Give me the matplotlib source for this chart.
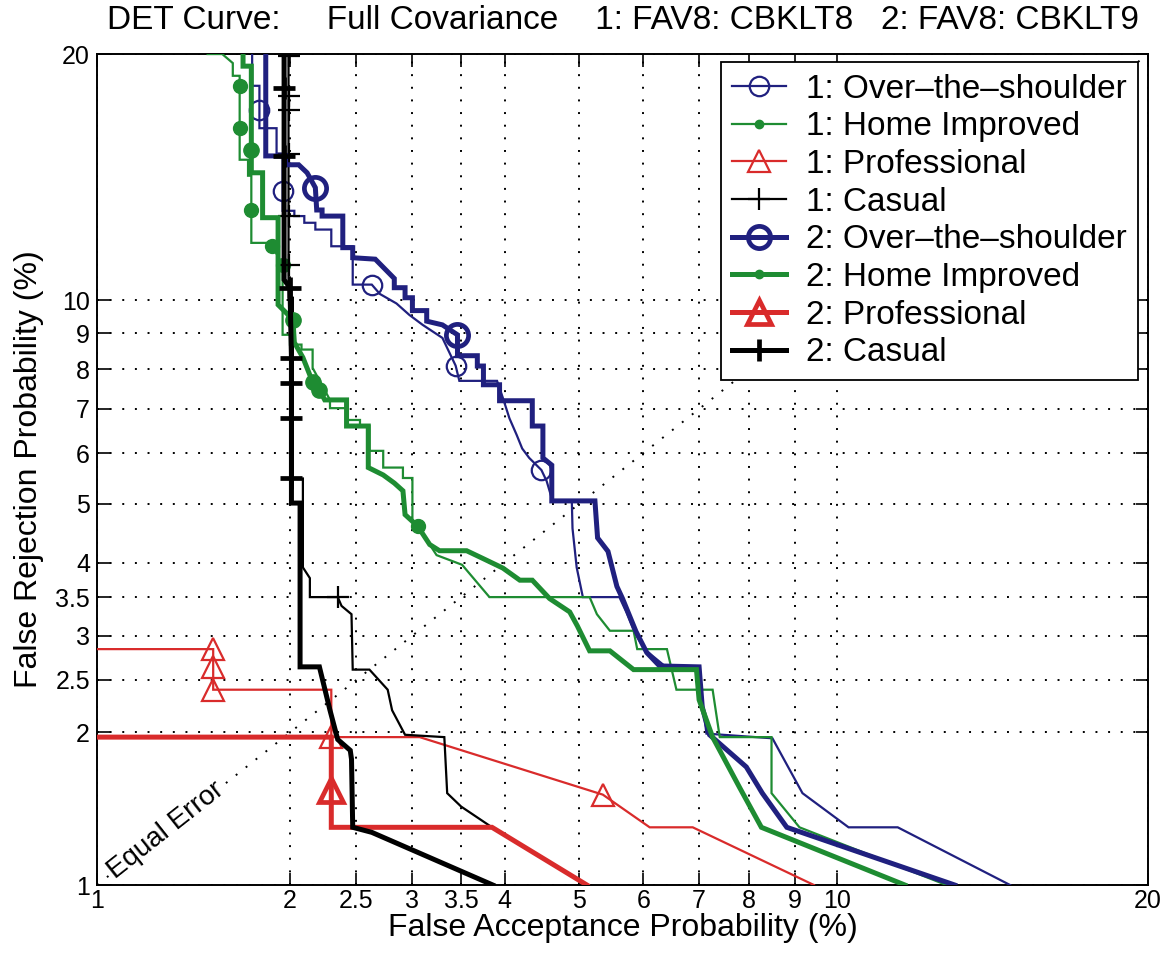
import math
import numpy as np
import matplotlib
matplotlib.use("Agg")
import matplotlib.pyplot as plt

plt.rcParams['font.family'] = ['Liberation Sans', 'DejaVu Sans']

# ---------------------------------------------------------------------------
# DET points: false acceptance (%) / false rejection (%) and marker vertices
# ---------------------------------------------------------------------------
ots1_fa = [1.755, 1.755, 1.80, 1.80, 1.80, 1.91, 1.91, 1.95, 1.95, 1.95, 2.03, 2.03,
           2.10, 2.10, 2.18, 2.18, 2.30, 2.30, 2.47, 2.47, 2.63, 2.70, 2.85, 2.97,
           3.10, 3.30, 3.44, 3.48, 3.91, 3.98, 4.06, 4.15, 4.22, 4.31, 4.47, 4.54,
           4.62, 4.89, 4.90, 4.96, 5.05, 5.61, 5.72, 5.85, 6.02, 6.41, 7.00, 7.06,
           7.14, 8.50, 9.18, 10.3, 11.6, 15.0]
ots1_fr = [22.0, 18.45, 18.45, 17.3, 16.5, 16.5, 15.4, 15.4, 13.85, 13.1, 13.1, 12.9,
           12.9, 12.65, 12.65, 12.4, 12.4, 11.8, 11.8, 10.5, 10.5, 10.2, 9.9, 9.55,
           9.25, 8.87, 8.1, 7.7, 7.7, 7.27, 6.78, 6.4, 6.1, 5.9, 5.65, 5.43,
           5.05, 5.05, 4.56, 3.93, 3.5, 3.5, 3.3, 3.05, 2.84, 2.63, 2.61, 2.3,
           1.99, 1.95, 1.53, 1.31, 1.31, 1.0]
ots1_marks = [3, 8, 20, 26, 34]

hi1_fa = [1.50, 1.58, 1.64, 1.64, 1.68, 1.68, 1.68, 1.68, 1.73, 1.73, 1.75, 1.75,
          1.75, 1.85, 1.88, 1.95, 1.95, 2.00, 2.00, 2.08, 2.08, 2.16, 2.16, 2.29,
          2.29, 2.42, 2.42, 2.53, 2.53, 2.61, 2.61, 2.73, 2.73, 2.91, 2.91, 3.00,
          3.00, 3.05, 3.24, 3.51, 3.82, 5.15, 5.26, 5.46, 5.84, 5.90, 6.41, 6.58,
          7.26, 7.40, 8.48, 8.48, 9.11, 13.0]
hi1_fr = [20.0, 20.0, 19.55, 18.93, 18.93, 18.45, 16.52, 15.14, 15.14, 14.48, 14.48, 13.13,
          11.92, 11.92, 11.82, 11.16, 8.96, 8.96, 8.68, 8.68, 8.54, 8.54, 8.04, 7.22,
          7.02, 7.02, 6.74, 6.74, 6.6, 6.6, 6.05, 6.05, 5.7, 5.7, 5.49, 5.49,
          4.71, 4.6, 4.12, 3.97, 3.5, 3.5, 3.27, 3.06, 3.06, 2.84, 2.84, 2.4,
          2.4, 1.96, 1.96, 1.53, 1.31, 1.0]
hi1_marks = [5, 6, 11, 14, 15, 37]

prof1_fa = [0.9, 1.53, 1.53, 1.53, 2.30, 2.30, 3.07, 5.35, 6.11, 6.88, 9.45]
prof1_fr = [2.84, 2.84, 2.64, 2.40, 2.40, 1.96, 1.96, 1.52, 1.31, 1.31, 1.0]
prof1_marks = [1, 2, 3, 5, 7]

cas1_fa = [1.99, 1.99, 1.99, 1.99, 1.99, 1.99, 1.99, 1.99, 2.02, 2.02, 2.09, 2.09,
           2.14, 2.14, 2.35, 2.38, 2.46, 2.47, 2.61, 2.77, 2.81, 2.93, 3.32, 3.35,
           3.50, 3.85, 5.11]
cas1_fr = [22.0, 19.9, 17.95, 17.3, 15.4, 12.9, 11.15, 10.08, 10.08, 5.48, 5.48, 3.93,
           3.77, 3.5, 3.5, 3.38, 3.27, 2.61, 2.61, 2.4, 2.2, 1.98, 1.96, 1.53,
           1.44, 1.31, 1.0]
cas1_marks = [1, 2, 3, 4, 5, 6, 14]

ots2_fa = [1.84, 1.84, 1.97, 1.97, 2.06, 2.12, 2.18, 2.19, 2.23, 2.23, 2.39, 2.39,
           2.47, 2.47, 2.66, 2.83, 2.83, 2.93, 2.93, 3.00, 3.00, 3.14, 3.14, 3.30,
           3.46, 3.46, 3.68, 3.68, 3.75, 3.75, 3.94, 3.94, 4.35, 4.35, 4.49, 4.49,
           4.61, 4.61, 5.23, 5.27, 5.43, 5.57, 5.66, 5.88, 6.06, 6.28, 7.00, 7.06,
           7.20, 7.94, 8.28, 8.82, 13.25]
ots2_fr = [22.0, 15.3, 15.3, 14.93, 14.93, 14.6, 14.0, 13.13, 13.13, 12.9, 12.9, 11.75,
           11.75, 11.4, 11.35, 10.7, 10.4, 10.4, 10.08, 10.08, 9.68, 9.68, 9.36, 9.25,
           8.96, 8.37, 8.37, 8.09, 8.09, 7.6, 7.6, 7.2, 7.2, 6.6, 6.6, 5.9,
           5.75, 5.05, 5.05, 4.4, 4.18, 3.65, 3.48, 3.05, 2.8, 2.65, 2.64, 2.23,
           1.98, 1.72, 1.53, 1.31, 1.0]
ots2_marks = [6, 24]

hi2_fa = [1.70, 1.70, 1.75, 1.75, 1.75, 1.82, 1.82, 1.92, 1.92, 2.02, 2.03, 2.09,
          2.16, 2.21, 2.25, 2.42, 2.42, 2.60, 2.60, 2.73, 2.83, 2.91, 2.93, 3.05,
          3.17, 3.27, 3.56, 3.74, 3.98, 4.19, 4.35, 4.58, 4.86, 4.97, 5.15, 5.46,
          5.84, 6.95, 7.00, 7.26, 7.80, 8.26, 11.8]
hi2_fr = [21.0, 19.4, 19.4, 15.56, 14.6, 14.6, 12.84, 12.84, 9.86, 9.41, 8.74, 8.32,
          7.67, 7.47, 7.22, 7.22, 6.6, 6.6, 5.7, 5.55, 5.39, 5.24, 4.8, 4.6,
          4.29, 4.19, 4.19, 4.07, 3.92, 3.74, 3.74, 3.48, 3.3, 3.12, 2.82, 2.82,
          2.61, 2.61, 2.3, 1.96, 1.57, 1.31, 1.0]
hi2_marks = [3, 9, 12, 13]

prof2_fa = [0.9, 2.30, 2.30, 2.30, 3.85, 5.11]
prof2_fr = [1.96, 1.96, 1.55, 1.31, 1.31, 1.0]
prof2_marks = [2]

cas2_fa = [1.96, 1.96, 1.96, 1.96, 2.00, 2.01, 2.01, 2.01, 2.01, 2.01, 2.07, 2.07,
           2.21, 2.29, 2.35, 2.45, 2.46, 2.47, 2.63, 3.86]
cas2_fr = [22.0, 18.35, 15.3, 10.66, 10.4, 8.3, 7.65, 6.78, 5.48, 5.01, 5.01, 2.64,
           2.64, 2.2, 1.94, 1.85, 1.78, 1.31, 1.28, 1.0]
cas2_marks = [1, 2, 4, 5, 6, 7, 8]

tick_values = [1, 2, 2.5, 3, 3.5, 4, 5, 6, 7, 8, 9, 10, 20]
tick_labels = ['1', '2', '2.5', '3', '3.5', '4', '5', '6', '7', '8', '9', '10', '20']

NAVY = '#20207f'
GREEN = '#1e8c32'
RED = '#d92b2b'
BLACK = '#000000'


# ---------------------------------------------------------------------------
# normal-deviate axis scale
# ---------------------------------------------------------------------------
_A = [-3.969683028665376e+01, 2.209460984245205e+02, -2.759285104469687e+02,
      1.383577518672690e+02, -3.066479806614716e+01, 2.506628277459239e+00]
_B = [-5.447609879822406e+01, 1.615858368580409e+02, -1.556989798598866e+02,
      6.680131188771972e+01, -1.328068155288572e+01]
_C = [-7.784894002430293e-03, -3.223964580411365e-01, -2.400758277161838e+00,
      -2.549732539343734e+00, 4.374664141464968e+00, 2.938163982698783e+00]
_D = [7.784695709041462e-03, 3.224671290700398e-01, 2.445134137142996e+00,
      3.754408661907416e+00]


def _ndtri(p):
    p = np.clip(np.asarray(p, dtype=float), 1e-12, 1 - 1e-12)
    plow = 0.02425
    with np.errstate(all='ignore'):
        q = np.sqrt(-2 * np.log(p))
        low = (((((_C[0] * q + _C[1]) * q + _C[2]) * q + _C[3]) * q + _C[4]) * q + _C[5]) / \
              ((((_D[0] * q + _D[1]) * q + _D[2]) * q + _D[3]) * q + 1)
        qh = np.sqrt(-2 * np.log(1 - p))
        high = -(((((_C[0] * qh + _C[1]) * qh + _C[2]) * qh + _C[3]) * qh + _C[4]) * qh + _C[5]) / \
               ((((_D[0] * qh + _D[1]) * qh + _D[2]) * qh + _D[3]) * qh + 1)
        qc = p - 0.5
        r = qc * qc
        mid = (((((_A[0] * r + _A[1]) * r + _A[2]) * r + _A[3]) * r + _A[4]) * r + _A[5]) * qc / \
              (((((_B[0] * r + _B[1]) * r + _B[2]) * r + _B[3]) * r + _B[4]) * r + 1)
    return np.where(p < plow, low, np.where(p > 1 - plow, high, mid))


_erf = np.frompyfunc(math.erf, 1, 1)


def pct_to_dev(v):
    return _ndtri(np.asarray(v, dtype=float) / 100.0)


def dev_to_pct(u):
    u = np.asarray(u, dtype=float)
    return 50.0 * (1.0 + _erf(u / math.sqrt(2.0)).astype(float))


# ---------------------------------------------------------------------------
fig = plt.figure(figsize=(11.76, 9.6), dpi=100)
ax = fig.add_axes([0.0825, 0.0781, 0.8937, 0.8656])
ax.set_xscale('function', functions=(pct_to_dev, dev_to_pct))
ax.set_yscale('function', functions=(pct_to_dev, dev_to_pct))
ax.set_xlim(1, 20)
ax.set_ylim(1, 20)

ax.set_xticks(tick_values, labels=tick_labels)
ax.set_yticks(tick_values, labels=tick_labels)
ax.minorticks_off()
ax.tick_params(direction='in', length=9, width=1.2, top=True, right=True,
               labelsize=18, pad=5)
ax.tick_params(axis='x', pad=3)
for s in ax.spines.values():
    s.set_linewidth(1.4)

dots = (0, (1, 5.5))
ax.grid(True, color='k', linestyle=dots, linewidth=1.4)
ax.set_axisbelow(True)

# equal error diagonal
ax.plot([1, 20], [1, 20], color='k', linestyle=dots, linewidth=1.4, zorder=1)
ax.text(1.29, 1.29, 'Equal Error', rotation=38.3, rotation_mode='anchor',
        ha='center', va='center', fontsize=20, zorder=2,
        bbox=dict(facecolor='white', edgecolor='none', pad=0.5))

thin, thick = 1.6, 3.6
series = [
    (ots1_fa, ots1_fr, ots1_marks, NAVY, thin, 'o', 14, 1.6, 'none', '1: Over–the–shoulder'),
    (hi1_fa, hi1_fr, hi1_marks, GREEN, thin, 'o', 10, 1.0, GREEN, '1: Home Improved'),
    (prof1_fa, prof1_fr, prof1_marks, RED, thin, '^', 16, 1.6, 'none', '1: Professional'),
    (cas1_fa, cas1_fr, cas1_marks, BLACK, thin, '+', 16, 1.6, 'none', '1: Casual'),
    (ots2_fa, ots2_fr, ots2_marks, NAVY, thick, 'o', 16, 3.4, 'none', '2: Over–the–shoulder'),
    (hi2_fa, hi2_fr, hi2_marks, GREEN, thick, 'o', 11, 1.0, GREEN, '2: Home Improved'),
    (prof2_fa, prof2_fr, prof2_marks, RED, thick, '^', 17, 3.4, 'none', '2: Professional'),
    (cas2_fa, cas2_fr, cas2_marks, BLACK, thick, '+', 16, 3.4, 'none', '2: Casual'),
]
for fa, fr, marks, col, lw, mk, ms, mew, mfc, lab in series:
    ax.plot(fa, fr, color=col, linewidth=lw, marker=mk, markersize=ms,
            markeredgewidth=mew, markerfacecolor=mfc, markeredgecolor=col,
            markevery=marks, label=lab, zorder=3, solid_joinstyle='miter')

leg = ax.legend(loc='upper right', bbox_to_anchor=(0.9905, 0.9904), borderaxespad=0,
                fontsize=24, labelspacing=0.2, handlelength=1.6, handletextpad=0.6,
                borderpad=0.35, fancybox=False, framealpha=1, edgecolor='k')
leg.get_frame().set_linewidth(1.3)
for h in leg.legend_handles:
    if h.get_marker() == 'o' and h.get_markerfacecolor() != 'none':
        h.set_markersize(6)

ax.set_xlabel('False Acceptance Probability (%)', fontsize=23, labelpad=0)
ax.set_ylabel('False Rejection Probability (%)', fontsize=23, labelpad=8)
ax.set_title('DET Curve:     Full Covariance    1: FAV8: CBKLT8   2: FAV8: CBKLT9',
             fontsize=24, pad=18)

fig.savefig('out.png', dpi=100)
